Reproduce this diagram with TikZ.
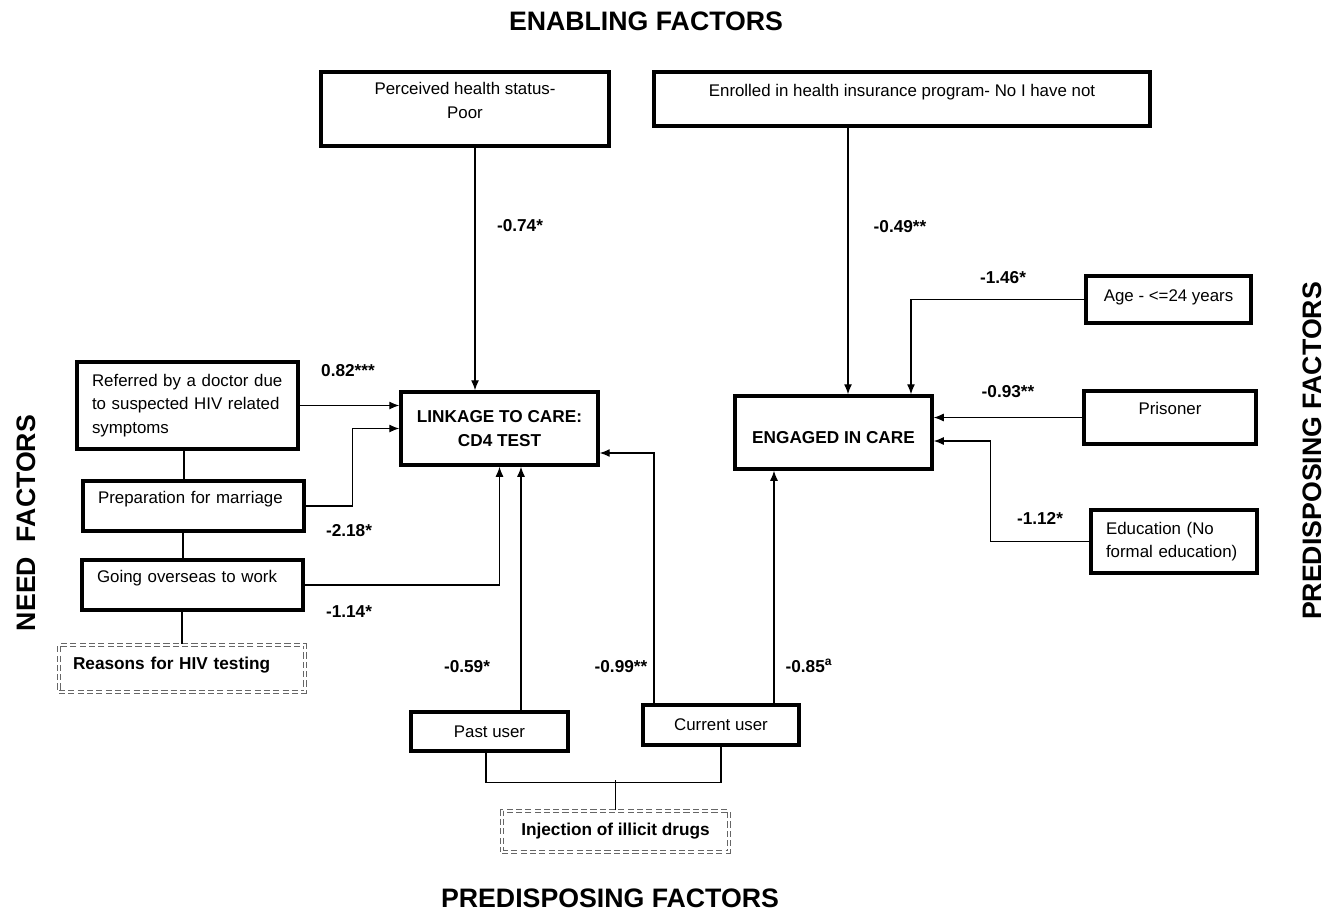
\documentclass[tikz,border=0pt]{standalone}
\usepackage{fontspec}
\setmainfont{Liberation Sans}
\usepackage{tikz}
\usetikzlibrary{arrows,arrows.meta,positioning}

\begin{document}
\begin{tikzpicture}[x=0.02cm,y=-0.02cm]
\tikzstyle{factor}=[draw=black,line width=2pt,rectangle,font=\fontsize{9.6}{13.4}\selectfont,inner sep=2pt]
\tikzstyle{leftbox}=[factor,align=left,inner xsep=0.3cm]
\tikzstyle{hightext}=[text depth=0.35cm]
\tikzstyle{outcome}=[factor,align=center,font=\fontsize{9.8}{13.4}\selectfont\bfseries]
\tikzstyle{groupbox}=[draw=black!60,dash pattern=on 3.5pt off 1.8pt,double,double distance=1.2pt,line width=0.6pt,font=\fontsize{9.8}{12}\selectfont\bfseries]
\tikzstyle{coef}=[font=\fontsize{9.8}{12}\selectfont\bfseries]
\tikzstyle{title}=[font=\fontsize{15.2}{18}\selectfont\bfseries]
\tikzstyle{arrow}=[line width=0.7pt,-{Latex[length=0.2cm,width=0.16cm]}]
\tikzstyle{link}=[line width=0.7pt]
\useasboundingbox (0,0) rectangle (1334,913);

\node [title] at (646,21) (enab) {ENABLING FACTORS};
\node [title] at (610,898) (pred) {PREDISPOSING FACTORS};
\node [title,rotate=90] at (26,523) (need) {NEED\ \ FACTORS};
\node [title,rotate=90] at (1312,451) (predr) {PREDISPOSING FACTORS};

\node [outcome,minimum width=3.94cm,minimum height=1.46cm] at (499.5,428.5) (link) {LINKAGE TO CARE:\\CD4 TEST};
\node [outcome,minimum width=3.94cm,minimum height=1.46cm,text height=0.45cm] at (833.5,432.5) (eng) {ENGAGED IN CARE};

\node [factor,hightext,align=center,minimum width=5.76cm,minimum height=1.48cm] at (465,109) (health) {Perceived health status-\\Poor};
\node [factor,hightext,minimum width=9.92cm,minimum height=1.08cm] at (902,99) (insur) {Enrolled in health insurance program- No I have not};

\node [leftbox,text width=3.82cm,minimum height=1.74cm] at (187.5,405.5) (doctor) {Referred by a doctor due\\to suspected HIV related\\symptoms};
\node [leftbox,hightext,text width=3.82cm,minimum height=1.0cm] at (193.5,506) (marriage) {Preparation for marriage};
\node [leftbox,hightext,text width=3.82cm,minimum height=1.0cm] at (192.5,585) (overseas) {Going overseas to work};
\node [groupbox,align=left,inner xsep=0.28cm,text width=4.36cm,minimum height=0.94cm,text depth=0.2cm] at (182,668.5) (reasons) {Reasons for HIV testing};

\node [factor,text depth=0.15cm,minimum width=3.3cm,minimum height=0.94cm] at (1168.5,299.5) (age) {Age - <=24 years};
\node [factor,hightext,minimum width=3.44cm,minimum height=1.06cm] at (1170,417.5) (prison) {Prisoner};
\node [leftbox,text width=2.72cm,minimum height=1.26cm] at (1174,541.5) (educ) {Education (No\\formal education)};

\node [factor,minimum width=3.14cm,minimum height=0.78cm] at (489.5,731.5) (past) {Past user};
\node [factor,minimum width=3.12cm,minimum height=0.8cm] at (721,725) (current) {Current user};
\node [groupbox,minimum width=4.54cm,minimum height=0.82cm] at (615.5,831.5) (inject) {Injection of illicit drugs};

% coefficients
\node [coef] at (520,226) (c1) {-0.74*};
\node [coef] at (900,227) (c2) {-0.49**};
\node [coef] at (1003,278) (c3) {-1.46*};
\node [coef] at (1008,392) (c4) {-0.93**};
\node [coef] at (1040,518) (c5) {-1.12*};
\node [coef] at (348,371) (c6) {0.82***};
\node [coef] at (349,531) (c7) {-2.18*};
\node [coef] at (349,612) (c8) {-1.14*};
\node [coef] at (467,667) (c9) {-0.59*};
\node [coef] at (621,667) (c10) {-0.99**};
\node [coef] at (809,666) (c11) {-0.85\textsuperscript{a}};

% paths into linkage
\draw [arrow] ([xshift=-0.49cm]link.north |- health.south) -- ([xshift=-0.49cm]link.north);
\draw [arrow] (doctor.east) -- (doctor.east -| link.west);
\draw [arrow] (marriage.east) -- ++(47,0) |- (link.west);
\draw [arrow] (overseas.east) -| (link.south);
\draw [arrow] ([xshift=0.63cm]past.north) -- ([xshift=0.63cm]past.north |- link.south);
\draw [arrow] ([xshift=-1.34cm]current.north) |- ([yshift=-0.49cm]link.east);

% paths into engagement
\draw [arrow] ([xshift=0.29cm]eng.north |- insur.south) -- ([xshift=0.29cm]eng.north);
\draw [arrow] (age.west) -| ([xshift=1.55cm]eng.north);
\draw [arrow] (prison.west) -- (prison.west -| eng.east);
\draw [arrow] (educ.west) -- ++(-99,0) |- ([yshift=-0.17cm]eng.east);
\draw [arrow] ([xshift=1.06cm]current.north) -- ([xshift=1.06cm]current.north |- eng.south);

% grouping lines
\draw [link] ([xshift=-0.07cm]doctor.south) -- ([xshift=-0.07cm]doctor.south |- marriage.north);
\draw [link] ([xshift=-0.21cm]marriage.south) -- ([xshift=-0.21cm]marriage.south |- overseas.north);
\draw [link] (reasons.north |- overseas.south) -- (reasons.north);
\draw [link] ([xshift=-0.07cm]past.south) -- ++(0,30) -| (current.south);
\draw [link] (inject.north) -- ++(0,-30);
\end{tikzpicture}
\end{document}
